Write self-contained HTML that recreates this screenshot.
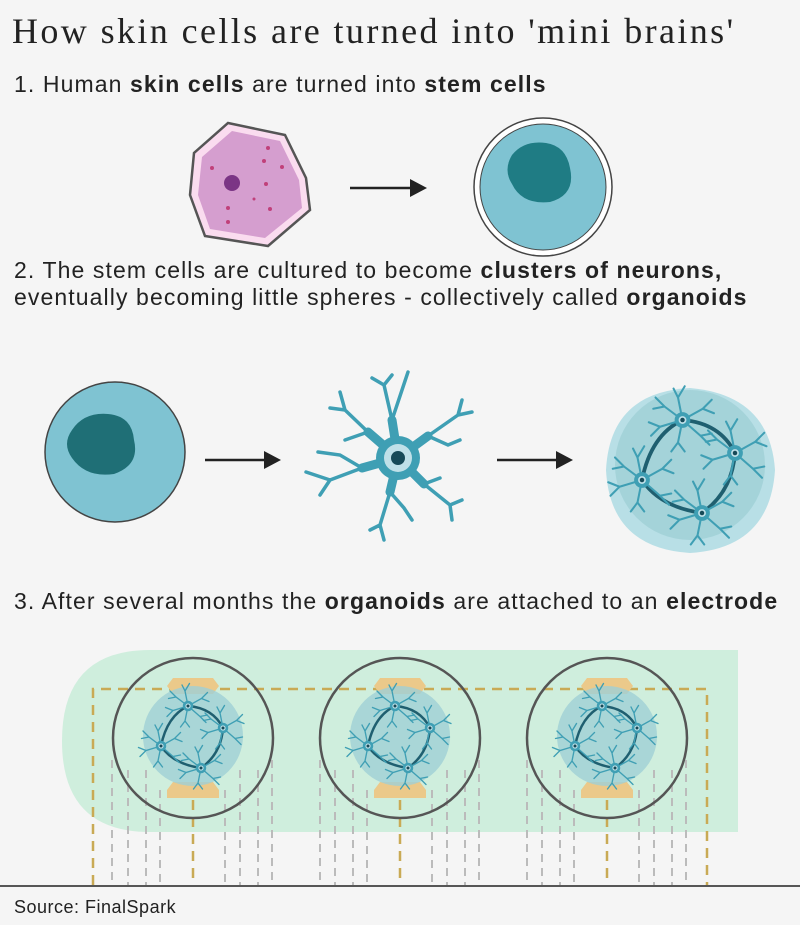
<!DOCTYPE html>
<html><head><meta charset="utf-8"><style>
body{margin:0;background:#f5f5f5;}
.w{position:relative;width:800px;height:925px;overflow:hidden;background:#f5f5f5;font-family:"Liberation Sans",sans-serif;color:#222;}
.t{position:absolute;left:12px;top:10px;font-family:"Liberation Serif",serif;font-size:36px;letter-spacing:2.4px;color:#222;white-space:nowrap;}
.s{position:absolute;left:14px;font-size:23px;letter-spacing:1.1px;line-height:27px;color:#222;white-space:nowrap;}
svg{position:absolute;left:0;top:0;}
</style></head><body><div class="w">
<svg width="800" height="925" viewBox="0 0 800 925">
<defs>
<g id="n">
 <g stroke="#3f9fb4" stroke-width="1.8" fill="none" stroke-linecap="round">
  <path d="M0 0 L-4 -20 L-8 -28 M-4 -20 L2 -30 M0 0 L18 -10 L26 -18 M18 -10 L28 -6 M0 0 L16 14 L24 22 M16 14 L26 12 M0 0 L-4 20 L-10 28 M-4 20 L2 28 M0 0 L-20 6 L-30 2 M-20 6 L-28 14 M0 0 L-16 -12 L-24 -20 M-16 -12 L-26 -10"/>
 </g>
 <circle r="7" fill="#3f9fb4"/><circle r="3.5" fill="#bfe0e8"/><circle r="2" fill="#174a58"/>
</g>
<g id="org">
 <circle r="50" fill="#9fd0d6" opacity="0.8"/>
 <path d="M-5 -30 Q20 -28 30 -8 Q28 18 8 32 Q-20 28 -32 10 Q-26 -20 -5 -30" fill="none" stroke="#1f5f70" stroke-width="2.5"/>
 <use href="#n" transform="translate(-5,-30) scale(0.75)"/>
 <use href="#n" transform="translate(30,-8) scale(0.75)"/>
 <use href="#n" transform="translate(8,32) scale(0.75)"/>
 <use href="#n" transform="translate(-32,10) scale(0.75)"/>
</g>
<g id="el">
 <circle r="80" fill="none" stroke="#555" stroke-width="2.5"/>
 <path d="M-20 -60 L20 -60 L26 -52 L20 -44 L-20 -44 L-26 -52Z" fill="#ebc98a"/>
 <path d="M-20 44 L20 44 L26 52 L26 60 L-26 60 L-26 52Z" fill="#ebc98a"/>
 <use href="#org" transform="translate(0,-2)"/>
</g>
</defs>
<!-- skin cell -->
<path d="M228 123 L285 135 L306 178 L310 210 L268 246 L205 236 L190 195 L194 153Z" fill="#fadcef" stroke="#555" stroke-width="2.5"/>
<path d="M232 131 L280 141 L299 180 L302 208 L265 238 L210 229 L198 195 L202 157Z" fill="#d59ecf"/>
<circle cx="232" cy="183" r="8" fill="#7b3585"/>
<g fill="#c0407a"><circle cx="268" cy="148" r="2"/><circle cx="264" cy="161" r="2"/><circle cx="282" cy="167" r="2"/><circle cx="212" cy="168" r="2"/><circle cx="266" cy="184" r="2"/><circle cx="270" cy="209" r="2"/><circle cx="228" cy="222" r="2"/><circle cx="228" cy="208" r="2"/><circle cx="254" cy="199" r="1.5"/></g>
<!-- arrows -->
<g stroke="#222" stroke-width="2.5"><line x1="350" y1="188" x2="412" y2="188"/><line x1="205" y1="460" x2="266" y2="460"/><line x1="497" y1="460" x2="558" y2="460"/></g>
<g fill="#222"><path d="M410 179 L427 188 L410 197Z"/><path d="M264 451 L281 460 L264 469Z"/><path d="M556 451 L573 460 L556 469Z"/></g>
<!-- stem cell -->
<circle cx="543" cy="187" r="69" fill="#fff" stroke="#444" stroke-width="1.5"/>
<circle cx="543" cy="187" r="63" fill="#7fc3d2" stroke="#444" stroke-width="1"/>
<path d="M512 155 Q524 140 546 143 Q566 146 570 168 Q576 195 550 202 Q522 205 512 184 Q503 170 512 155Z" fill="#1f7c84"/>
<circle cx="115" cy="452" r="70" fill="#7fc3d2" stroke="#444" stroke-width="1.5"/>
<path d="M72 430 Q84 412 108 414 Q132 416 134 440 Q140 465 114 474 Q86 478 72 458 Q62 444 72 430Z" fill="#1f6f76"/>
<!-- neuron big -->
<g stroke="#3f9fb4" fill="none" stroke-linecap="round">
 <g stroke-width="9"><path d="M398 458 L392 420 M398 458 L428 436 M398 458 L424 484 M398 458 L390 492 M398 458 L362 468 M398 458 L368 432"/></g>
 <g stroke-width="3.5"><path d="M392 420 L384 385 M392 420 L408 372 M384 385 L372 378 M384 385 L392 375 M428 436 L458 415 M458 415 L462 400 M458 415 L472 412 M428 436 L448 445 L460 440 M424 484 L450 505 M450 505 L462 500 M450 505 L452 520 M424 484 L440 478 M390 492 L380 525 M380 525 L370 530 M380 525 L384 540 M390 492 L404 508 L412 520 M362 468 L330 480 M330 480 L306 472 M330 480 L320 495 M362 468 L340 455 L318 452 M368 432 L345 410 M345 410 L330 408 M345 410 L340 392 M368 432 L345 440"/></g>
</g>
<circle cx="398" cy="458" r="22" fill="#3f9fb4"/>
<circle cx="398" cy="458" r="14" fill="#bfe0e8"/><circle cx="398" cy="458" r="7" fill="#174a58"/>
<!-- organoid -->
<path d="M690 388 Q770 395 775 470 Q770 548 690 553 Q610 548 606 470 Q610 392 690 388Z" fill="#b8dfe6"/>
<g transform="translate(690,465) scale(1.5)"><use href="#org"/></g>
<!-- section 3 -->
<path d="M150 650 L738 650 L738 832 L150 832 Q62 832 62 741 Q62 650 150 650Z" fill="#cfeedd"/>
<g stroke="#bbb" stroke-width="2" stroke-dasharray="8 6" fill="none">
 <path d="M112 760 V885 M128 770 V885 M146 770 V885 M160 790 V885 M225 790 V885 M240 770 V885 M258 770 V885 M272 760 V885"/>
 <path d="M320 760 V885 M335 770 V885 M353 770 V885 M367 790 V885 M432 790 V885 M447 770 V885 M465 770 V885 M479 760 V885"/>
 <path d="M527 760 V885 M542 770 V885 M560 770 V885 M574 790 V885 M639 790 V885 M654 770 V885 M672 770 V885 M686 760 V885"/>
</g>
<g stroke="#c9aa55" stroke-width="2.5" stroke-dasharray="10 7" fill="none">
 <path d="M93 885 V689 H707 V885"/>
 <path d="M193 800 V885 M400 800 V885 M607 800 V885"/>
</g>
<use href="#el" transform="translate(193,738)"/>
<use href="#el" transform="translate(400,738)"/>
<use href="#el" transform="translate(607,738)"/>
<line x1="0" y1="886" x2="800" y2="886" stroke="#222" stroke-width="1.5"/>
</svg>
<div class="t">How skin cells are turned into 'mini brains'</div>
<div class="s" style="top:71px">1. Human <b>skin cells</b> are turned into <b>stem cells</b></div>
<div class="s" style="top:257px">2. The stem cells are cultured to become <b>clusters of neurons,</b><br>eventually becoming little spheres - collectively called <b>organoids</b></div>
<div class="s" style="top:588px">3. After several months the <b>organoids</b> are attached to an <b>electrode</b></div>
<div class="s" style="top:894px;font-size:18px;letter-spacing:0.5px">Source: FinalSpark</div>
</div></body></html>
